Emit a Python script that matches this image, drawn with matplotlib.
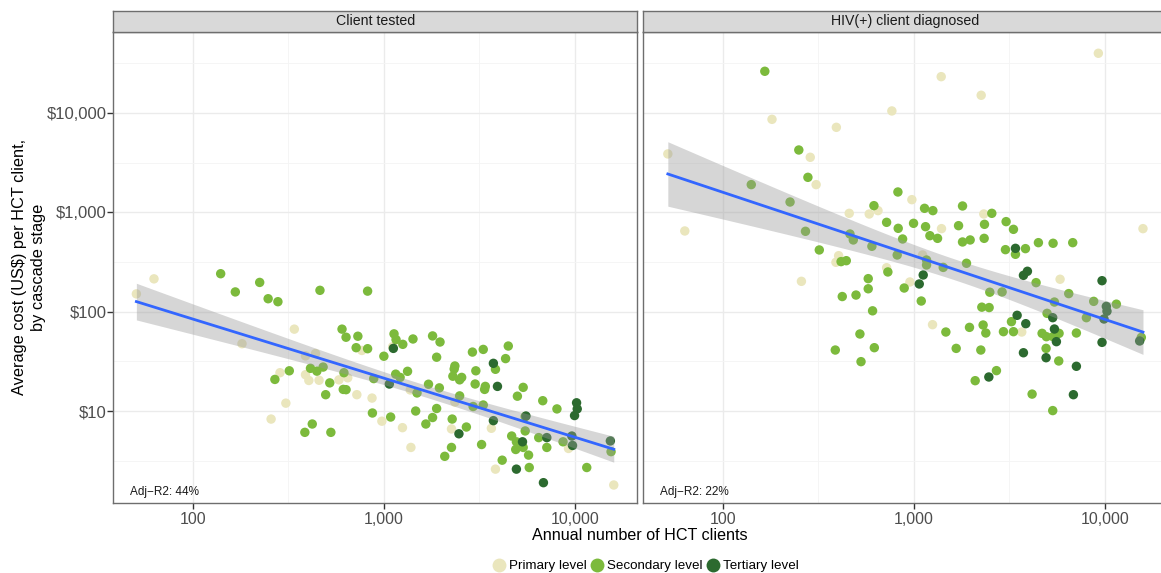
import numpy as np
import matplotlib
matplotlib.use("Agg")
import matplotlib.pyplot as plt
from matplotlib.lines import Line2D

plt.rcParams["font.family"] = ["Liberation Sans", "DejaVu Sans"]

# ---- data (P = primary, S = secondary, T = tertiary) ----
tested_clients = [50.7, 62.7, 140, 167, 224, 248, 279, 463, 822, 340,
                  181, 604, 634, 731, 716, 767, 822, 1000, 1130, 1158,
                  1256, 1420, 1112, 1121, 1798, 1967, 1888, 2906, 3311, 4476,
                  4333, 3741, 3835, 2352, 2333, 2296, 2553, 2491, 3028, 3003,
                  3394, 3929, 3366, 389, 439, 413, 446, 481, 286, 320,
                  389, 269, 405, 458, 521, 582, 647, 618, 613, 634,
                  496, 722, 885, 1068, 1153, 1216, 1330, 867, 871, 1085,
                  976, 1251, 1467, 1712, 1491, 1951, 1374, 1888, 1798, 1658,
                  2277, 2258, 2470, 2702, 2491, 2352, 2931, 3311, 3741, 3651,
                  3245, 2258, 2082, 1385, 307, 257, 422, 386, 528, 4996,
                  5356, 6780, 8045, 5488, 5540, 5488, 4663, 4936, 5312, 5356,
                  4896, 5715, 4159, 3835, 4936, 5762, 7120, 6459, 7120, 8656,
                  9625, 9705, 9243, 10190, 10270, 9945, 15310, 15440, 11520, 6836,
                  15950]
tested_cost = [151, 214, 241, 158, 197, 135, 126, 164, 161, 66.7,
               47.6, 66.7, 55.3, 56.6, 43.4, 40.7, 42.4, 35.6, 59.8, 52.3,
               46.9, 53.1, 44.4, 42.7, 57.0, 49.5, 34.8, 39.2, 41.7, 45.1,
               33.7, 30.2, 26.3, 28.4, 26.5, 22.4, 21.8, 20.6, 25.4, 18.7,
               17.7, 17.7, 16.5, 35.9, 37.9, 26.9, 25.2, 27.7, 24.3, 25.4,
               23.2, 20.8, 20.3, 20.4, 19.2, 20.6, 21.6, 24.3, 16.5, 16.4,
               14.6, 14.6, 21.2, 18.7, 23.5, 21.8, 25.1, 13.5, 9.55, 8.7,
               7.9, 6.8, 10.0, 18.6, 15.2, 17.1, 16.3, 10.6, 8.6, 7.4,
               8.3, 6.6, 5.9, 6.9, 14.2, 12.3, 11.1, 11.5, 8.0, 6.7,
               4.6, 4.3, 3.5, 4.3, 12.0, 8.3, 7.4, 6.1, 6.1, 14.1,
               17.3, 12.7, 10.5, 8.8, 8.9, 6.3, 5.6, 4.9, 4.9, 4.3,
               4.1, 3.6, 3.2, 2.6, 2.6, 2.7, 5.4, 5.4, 4.3, 4.9,
               5.6, 4.5, 4.2, 12.1, 10.5, 9.0, 5.0, 3.9, 2.7, 1.9,
               1.8]
tested_level = list("PPSSSSSSSP" "PSSSSPSSSS" "SSPTSSSSSS" "STSSSSSSSS" "STSPPSSSPS"
                    "PSPPSPPSSS" "SPSTSSSPSS" "PPSSSSPSSS" "SPTSSPSSTP" "SSSPPPSSSS"
                    "SSSSTSSSTS" "SSSPTSTSSS" "TTPTTTTSST" "P")

diag_clients = [9230, 166, 1390, 2250, 181, 767, 393, 250, 287, 51.6,
                279, 308, 141, 225, 63.3, 271, 320, 463, 482, 603,
                459, 584, 649, 618, 825, 976, 1137, 1257, 1797, 2322,
                2557, 720, 828, 996, 1151, 1213, 1330, 1395, 873, 1713,
                1797, 1970, 2341, 2332, 3038, 3319, 3014, 3400, 3400, 3835,
                4483, 5350, 6778, 15800, 404, 391, 416, 443, 818, 1110,
                1165, 1165, 1424, 1885, 720, 731, 577, 577, 953, 890,
                1119, 1067, 1093, 258, 422, 498, 608, 522, 3743, 3927,
                4359, 5820, 9647, 2496, 2895, 6460, 5436, 8726, 11470, 10160,
                10240, 7990, 9880, 2267, 2476, 3469, 3240, 3850, 1252, 1470,
                1954, 2303, 2379, 2942, 3319, 3668, 4686, 4936, 4976, 5327,
                5436, 5750, 5350, 5568, 7084, 9647, 15490, 15180,
                388, 621, 529, 1665, 2240, 3743, 4917, 4917, 5727, 7084,
                2704, 2467, 2093, 4155, 6833, 5327]
diag_cost = [39900, 26280, 23200, 15070, 8630, 10480, 7170, 4240, 3580, 3870,
             2250, 1900, 1900, 1270, 649, 644, 418, 605, 527, 455,
             977, 962, 1040, 1167, 1602, 1341, 1097, 1040, 1158, 962,
             977, 793, 690, 775, 717, 582, 547, 685, 539, 734,
             503, 527, 757, 547, 806, 674, 421, 434, 378, 431,
             495, 488, 495, 685, 366, 314, 319, 326, 372, 372,
             331, 295, 279, 307, 277, 251, 215, 170, 199, 173,
             234, 190, 128, 202, 142, 147, 102, 59.6, 232, 255,
             196, 212, 205, 157, 158, 152, 125, 127, 119, 113,
             101, 87, 84.4, 111, 110, 91.9, 79.3, 75.7, 74, 62.4,
             69.5, 73.4, 61, 62.9, 62.9, 62.4, 60.5, 56, 96.2, 87,
             66.9, 60.5, 56, 49.9, 61, 49.1, 55.1, 50.7,
             41.1, 43.4, 31.4, 42.7, 41.1, 38.6, 42.7, 34.4, 31.9, 28.2,
             25.5, 22, 20.2, 14.8, 14.6, 10.1]
diag_level = list("PSPPPPPSPP" "SPSSPSSSSS" "PPPSSPSSSP" "SSSSSSSPSS" "SSSSSSSTSS"
                  "SSSPPPSSSP" "SSSSPSSSPS" "TTSPSSSSTT" "SPTSSSSSST" "TSTSSTSTPS"
                  "SSSSSPSSST" "TSSTSTST"
                  "SSSSSTSTST" "STSSTS")

panels = [("Client tested", tested_clients, tested_cost, tested_level, "Adj\u2212R2: 44%"),
          ("HIV(+) client diagnosed", diag_clients, diag_cost, diag_level, "Adj\u2212R2: 22%")]

level_names = {"P": "Primary level", "S": "Secondary level", "T": "Tertiary level"}
level_colors = {"P": "#EAE6BD", "S": "#7CBA3C", "T": "#2C6A2F"}

W, H = 1161, 573
fig = plt.figure(figsize=(W / 100, H / 100), dpi=100)


def rect(x0, y0, x1, y1):
    return [x0 / W, 1 - y1 / H, (x1 - x0) / W, (y1 - y0) / H]


lefts = [113.3, 643.3]
for i, (title, xs, ys, lv, r2) in enumerate(panels):
    x0 = lefts[i]
    ax = fig.add_axes(rect(x0, 31.7, x0 + 524, 503.3))
    ax.set_xscale("log")
    ax.set_yscale("log")
    ax.set_xlim(38.4, 21180)
    ax.set_ylim(1.178, 65770)

    ax.set_xticks([100, 1000, 10000])
    ax.set_xticklabels(["100", "1,000", "10,000"])
    ax.set_xticks([10 ** 2.5, 10 ** 3.5], minor=True)
    ax.set_yticks([10, 100, 1000, 10000])
    ax.set_yticks([10 ** 0.5, 10 ** 1.5, 10 ** 2.5, 10 ** 3.5, 10 ** 4.5], minor=True)
    if i == 0:
        ax.set_yticklabels(["\\$10", "\\$100", "\\$1,000", "\\$10,000"])
        ax.tick_params(axis="y", length=4, width=1, color="#333333", labelsize=12,
                       labelcolor="#4D4D4D", pad=1)
    else:
        ax.set_yticklabels([])
        ax.tick_params(axis="y", length=0)
    ax.tick_params(axis="x", length=4, width=1, color="#333333", labelsize=11.5,
                   labelcolor="#4D4D4D", pad=2)
    ax.tick_params(which="minor", length=0)

    ax.grid(which="major", color="#EBEBEB", lw=1.0)
    ax.grid(which="minor", color="#F4F4F4", lw=0.6)
    ax.set_axisbelow(True)
    for sp in ax.spines.values():
        sp.set_color("#6E6E6E")
        sp.set_linewidth(1.0)

    xs = np.array(xs, dtype=float)
    ys = np.array(ys, dtype=float)
    lv = np.array(lv)
    for code in ["P", "S", "T"]:
        m = lv == code
        ax.scatter(xs[m], ys[m], s=46, color=level_colors[code], edgecolors="none", zorder=2)

    # linear fit on log scales with 95% confidence band
    lx, ly = np.log10(xs), np.log10(ys)
    b, a = np.polyfit(lx, ly, 1)
    n = len(lx)
    resid = ly - (a + b * lx)
    s = np.sqrt(np.sum(resid ** 2) / (n - 2))
    gx = np.linspace(lx.min(), lx.max(), 100)
    se = s * np.sqrt(1 / n + (gx - lx.mean()) ** 2 / np.sum((lx - lx.mean()) ** 2))
    fit = a + b * gx
    ax.fill_between(10 ** gx, 10 ** (fit - 1.98 * se), 10 ** (fit + 1.98 * se),
                    color="#999999", alpha=0.4, lw=0, zorder=3)
    ax.plot(10 ** gx, 10 ** fit, color="#3366FF", lw=2, zorder=4)

    ax.text(0.031, 0.0176, r2, transform=ax.transAxes, fontsize=8.5, color="#1A1A1A",
            ha="left", va="baseline")

    strip = fig.add_axes(rect(x0, 10.7, x0 + 524, 31.7))
    strip.set_facecolor("#D9D9D9")
    strip.set_xticks([])
    strip.set_yticks([])
    for sp in strip.spines.values():
        sp.set_color("#6E6E6E")
        sp.set_linewidth(1.0)
    strip.text(0.5, 0.5, title, ha="center", va="center", fontsize=10.2, color="#1A1A1A",
               transform=strip.transAxes)

fig.text(640 / W, 1 - 536 / H, "Annual number of HCT clients", ha="center", va="center",
         fontsize=11.6, color="#000000")
fig.text(29 / W, 1 - 267 / H, "Average cost (US\\$) per HCT client,\nby cascade stage",
         ha="center", va="center", rotation=90, fontsize=11.8, color="#000000",
         linespacing=1.25)

handles = [Line2D([], [], marker="o", ls="none", markersize=10, markeredgewidth=0,
                  color=level_colors[c], label=level_names[c]) for c in ["P", "S", "T"]]
fig.legend(handles=handles, loc="center", bbox_to_anchor=(646 / W, 1 - 566 / H), ncol=3,
           frameon=False, fontsize=9.6, handlelength=0.9, handletextpad=0.3,
           columnspacing=0.35, borderpad=0)

fig.savefig("out.png", dpi=100)
